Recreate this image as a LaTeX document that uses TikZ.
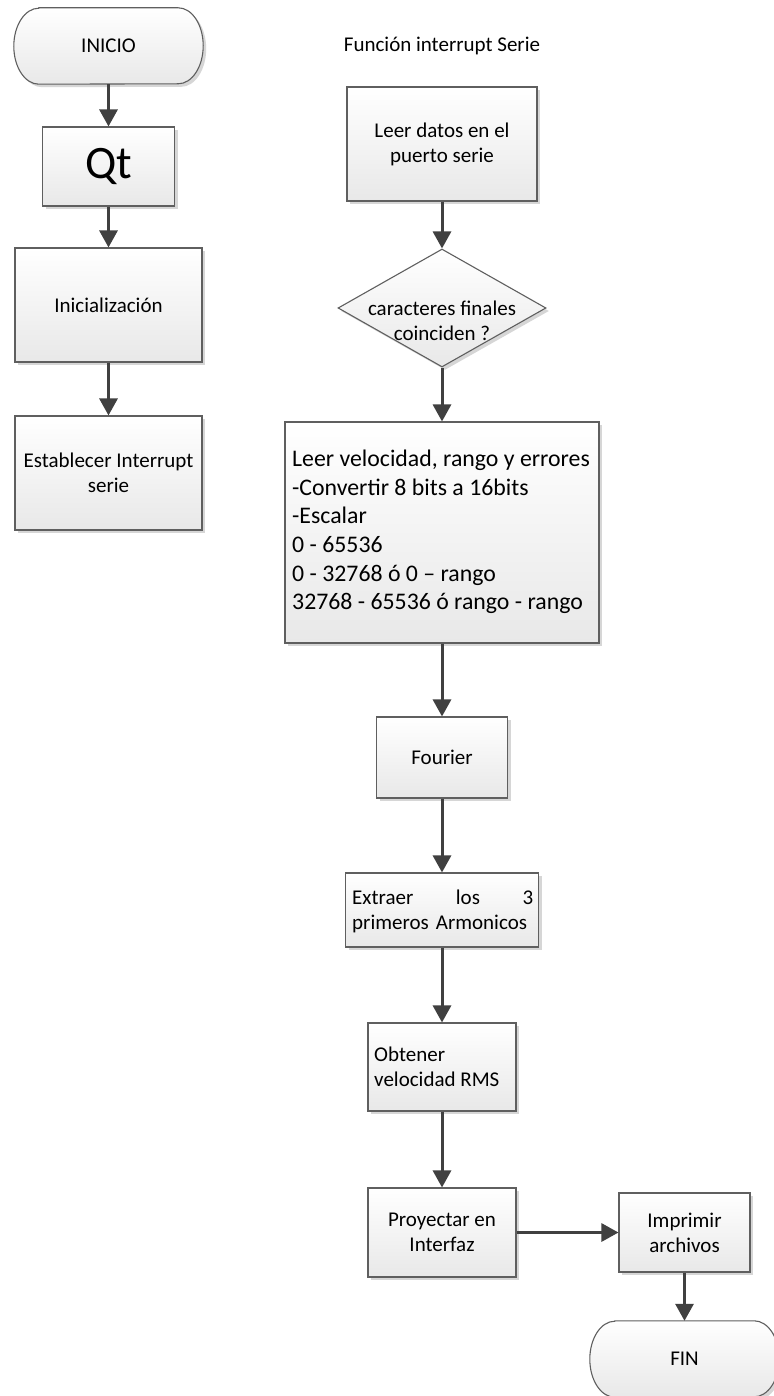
\documentclass[tikz,border=0pt]{standalone}
\usepackage{fontspec}
\setmainfont{Carlito}
\usetikzlibrary{shapes.geometric,shadows,arrows.meta}
\definecolor{edgec}{HTML}{5F5F5F}
\definecolor{arrc}{HTML}{404040}
\definecolor{shdc}{HTML}{D6D6D6}
\newcommand\nfs{\fontsize{21}{25}\selectfont}
\newcommand\bfs{\fontsize{23.8}{28.7}\selectfont}
\newcommand\qfs{\fontsize{46.5}{50}\selectfont}
\tikzset{
  myshadow/.style={drop shadow={shadow xshift=3pt, shadow yshift=-3pt, fill=shdc, opacity=1}},
  fbox/.style={rectangle, draw=edgec, line width=1.1pt, top color=white, bottom color=black!9,
    myshadow, font=\nfs, align=center, inner sep=0pt},
  termnode/.style={rectangle, minimum width=189pt, minimum height=76pt, inner sep=0pt},
  termline/.style={draw=edgec, line width=1.1pt, top color=white, bottom color=black!9, myshadow},
  txt/.style={font=\nfs, align=center, inner sep=0pt},
  ltxt/.style={font=\nfs, align=left, inner sep=0pt, anchor=west},
  arr/.style={draw=arrc, line width=3pt, -{Triangle[length=17pt,width=18pt]}},
}
\begin{document}
\begin{tikzpicture}[x=1pt,y=-1pt]
\useasboundingbox[fill=white] (0,0) rectangle (773,1396);

% ---------- left column ----------
\node[termnode] (ini) at (108.5,46) {};
\draw[termline] ([xshift=25pt]ini.north west) -- ([xshift=-25pt]ini.north east)
  arc[start angle=-90,end angle=90,x radius=25,y radius=38]
  -- ([xshift=25pt]ini.south west)
  arc[start angle=90,end angle=270,x radius=25,y radius=38] -- cycle;
\node[txt] (iniL) at (ini) {INICIO};

\node[fbox, minimum width=132pt, minimum height=79pt, font=\qfs] (qt) at (108.5,166.5) {Qt};
\node[fbox, minimum width=187pt, minimum height=114pt] (inic) at (108.5,305) {Inicialización};
\node[fbox, minimum width=187pt, minimum height=114pt] (est) at (108.5,473) {Establecer Interrupt\\serie};

\draw[arr] (ini.south) -- (qt.north);
\draw[arr] (qt.south) -- (inic.north);
\draw[arr] (inic.south) -- (est.north);

% ---------- right column ----------
\node[txt] (title) at (442,46) {Función interrupt Serie};
\node[fbox, minimum width=190pt, minimum height=114pt] (leer) at (442,144) {Leer datos en el\\puerto serie};
\node[diamond, draw=edgec, line width=1.1pt, top color=white, bottom color=black!9, myshadow,
  minimum width=208pt, minimum height=118pt, inner sep=0pt] (dia) at (442,308) {};
\node[txt] (diaL) at (442,321) {caracteres finales\\coinciden ?};

\node[fbox, minimum width=314pt, minimum height=221pt] (big) at (442,532.5) {};
\node[ltxt, font=\bfs] (bigL) at (292,532)
  {Leer velocidad, rango y errores\\-Convertir 8 bits a 16bits\\-Escalar\\0 - 65536\\0 - 32768 ó 0 -- rango\\32768 - 65536 ó rango - rango};

\node[fbox, minimum width=131pt, minimum height=81pt] (four) at (442,757.5) {Fourier};
\node[fbox, minimum width=193pt, minimum height=74pt] (ext) at (442,910) {};
\node[ltxt, text width=181pt] (extL) at (352,911)
  {Extraer\hfill los\hfill 3\\primeros Armonicos};
\node[fbox, minimum width=148pt, minimum height=88pt] (obt) at (442,1067) {};
\node[ltxt] (obtL) at (374,1066.5) {Obtener\\velocidad RMS};
\node[fbox, minimum width=148pt, minimum height=89pt] (proy) at (442,1232.5) {Proyectar en\\Interfaz};
\node[fbox, minimum width=131pt, minimum height=79pt] (imp) at (684.5,1232.5) {Imprimir\\archivos};

\node[termnode] (fin) at (684.5,1359) {};
\draw[termline] ([xshift=25pt]fin.north west) -- ([xshift=-25pt]fin.north east)
  arc[start angle=-90,end angle=90,x radius=25,y radius=38]
  -- ([xshift=25pt]fin.south west)
  arc[start angle=90,end angle=270,x radius=25,y radius=38] -- cycle;
\node[txt] (finL) at (fin) {FIN};

\draw[arr] (leer.south) -- (dia.north);
\draw[arr] (dia.south) -- (big.north);
\draw[arr] (big.south) -- (four.north);
\draw[arr] (four.south) -- (ext.north);
\draw[arr] (ext.south) -- (obt.north);
\draw[arr] (obt.south) -- (proy.north);
\draw[arr] (proy.east) -- (imp.west);
\draw[arr] (imp.south) -- (fin.north);
\end{tikzpicture}
\end{document}
